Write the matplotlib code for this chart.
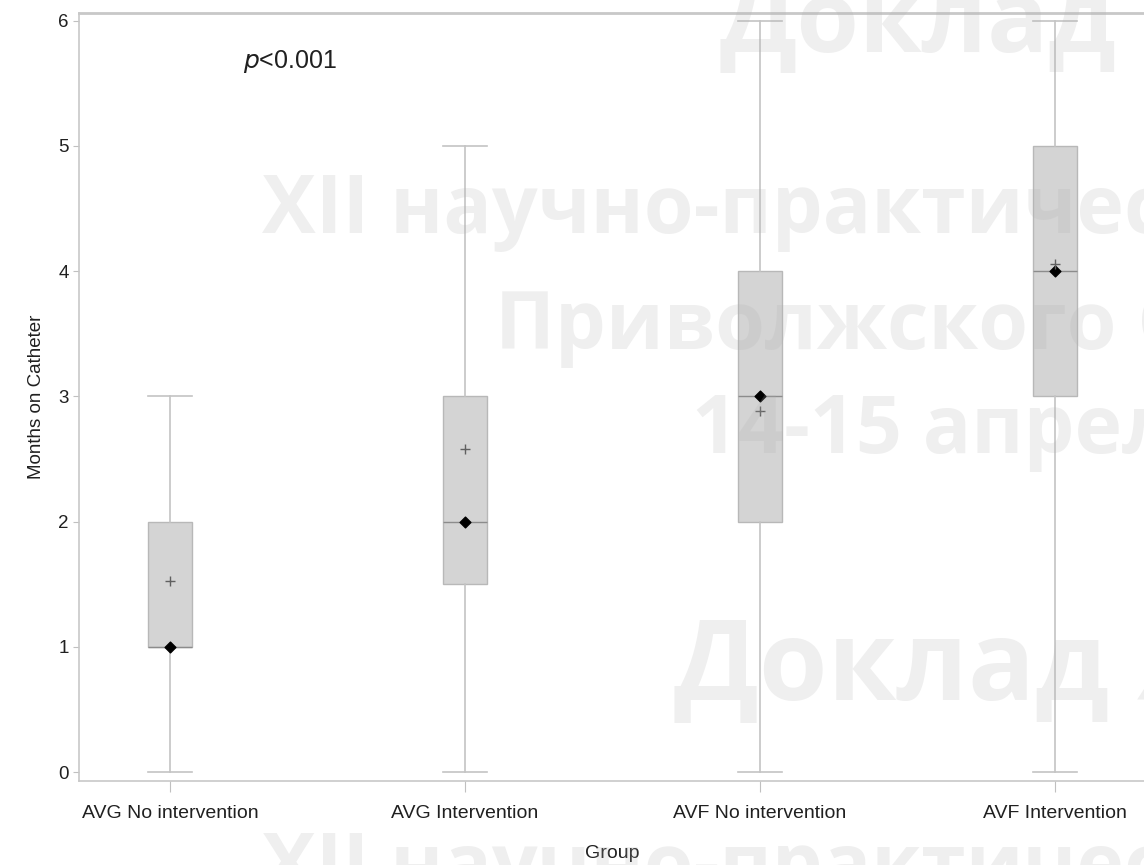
import matplotlib.pyplot as plt

groups = ["AVG No intervention", "AVG Intervention", "AVF No intervention", "AVF Intervention"]
whisker_lo = [0, 0, 0, 0]
q1 = [1, 1.5, 2, 3]
medians = [1, 2, 3, 4]
q3 = [2, 3, 4, 5]
whisker_hi = [3, 5, 6, 6]
means = [1.53, 2.58, 2.88, 4.06]

plt.rcParams['font.family'] = ['Liberation Sans', 'DejaVu Sans']

fig = plt.figure(figsize=(11.44, 8.65), dpi=100)
ax = fig.add_axes([79/1144, 1-781/865, 1067/1144, 768/865])

stats = []
for i, g in enumerate(groups):
    stats.append({"label": g, "whislo": whisker_lo[i], "q1": q1[i], "med": medians[i],
                  "q3": q3[i], "whishi": whisker_hi[i], "mean": means[i], "fliers": []})

ax.bxp(stats, positions=range(len(groups)), widths=0.15, patch_artist=True,
       showmeans=False, showfliers=False,
       boxprops=dict(facecolor="#d4d4d4", edgecolor="#b8b8b8", linewidth=1),
       medianprops=dict(color="#8c8c8c", linewidth=1),
       whiskerprops=dict(color="#c4c4c4", linewidth=1.2),
       capprops=dict(color="#c4c4c4", linewidth=1.2), capwidths=0.15)

# median diamonds and mean crosses
ax.scatter(range(len(groups)), medians, marker="D", s=30, color="black", zorder=5)
ax.scatter(range(len(groups)), means, marker="+", s=45, color="#606060", linewidths=1, zorder=6)

ax.set_xlim(-0.31, 3.31)
ax.set_ylim(-0.07, 6.06)
ax.set_yticks(range(7))
ax.set_xticks(range(len(groups)))
ax.set_xticklabels(groups)

for s in ax.spines.values():
    s.set_color("#c8c8c8")
    s.set_linewidth(1.2)
ax.spines["top"].set_linewidth(2)
ax.tick_params(axis="both", colors="#c0c0c0", labelcolor="#202020")
ax.tick_params(axis="x", length=8, pad=9, labelsize=14)
ax.tick_params(axis="y", length=4, labelsize=13.5)

ax.set_xlabel("Group", fontsize=14, color="#202020")
ax.set_ylabel("Months on Catheter", fontsize=13.5, color="#202020")
ax.xaxis.set_label_coords(0.5, -0.083)
ax.yaxis.set_label_coords(-0.032, 0.5)

ax.text(0.245, 5.67, "$p$<0.001", fontsize=18, ha="left", va="center", color="#202020",
        math_fontfamily="dejavusans")

# faint conference watermark over the chart
wm = dict(fontfamily="Open Sans", fontweight="bold", color="#b0b0b0", alpha=0.2, zorder=10,
          ha="left", va="baseline")
fig.text(720/1144, 1-52/865, "Доклад", fontsize=73, **wm)
fig.text(262/1144, 1-233/865, "XII научно-практичес", fontsize=58, **wm)
fig.text(495/1144, 1-349/865, "Приволжского О", fontsize=58, **wm)
fig.text(692/1144, 1-453/865, "14-15 апрел", fontsize=58, **wm)
fig.text(674/1144, 1-700/865, "Доклад Я", fontsize=80, **wm)
fig.text(262/1144, 1-891/865, "XII научно-практичес", fontsize=58, **wm)

fig.savefig("out.png", dpi=100)
